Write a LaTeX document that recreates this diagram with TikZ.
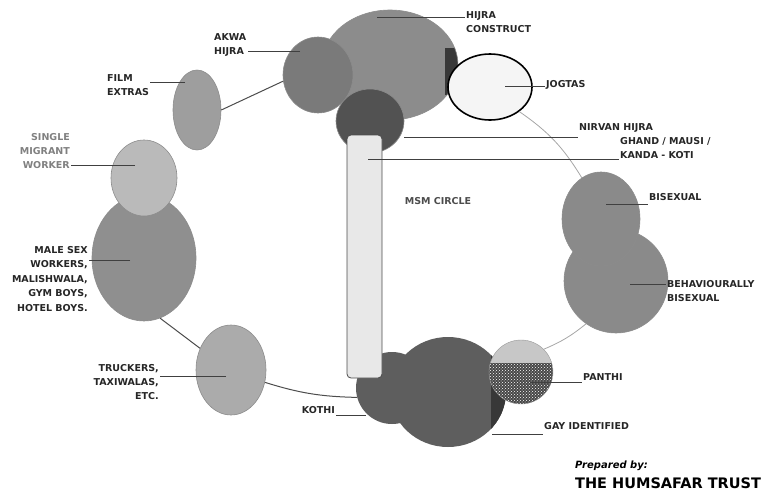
\documentclass[tikz,border=0pt]{standalone}
\usepackage{fontspec}
\usepackage{xcolor}
\usepackage{tikz}
\usetikzlibrary{positioning,shapes.geometric,patterns}
\newfontfamily\labelfont{DejaVu Sans}

\begin{document}
\begin{tikzpicture}[x=1pt,y=-1pt,
  blob/.style={ellipse,draw=black!45,line width=0.6pt,inner sep=0pt},
  ring/.style={draw=black!70,line width=1pt},
  ringlight/.style={draw=black!35,line width=0.8pt},
  lead/.style={draw=black!75,line width=1pt},
  lbl/.style={font=\labelfont\bfseries\fontsize{9.5}{14}\selectfont,text=black!85,inner sep=1pt}]
  \useasboundingbox (0,0) rectangle (766,498);

  \node[blob,fill=black!45,minimum width=136pt,minimum height=110pt,
    path picture={\fill[black!78] ([xshift=-13pt,yshift=17pt]path picture bounding box.east)
      rectangle ([yshift=-30pt]path picture bounding box.east);}] (hijra) at (390,65) {};
  \node[blob,fill=black!52,minimum width=70pt,minimum height=76pt] (akwa) at (318,75) {};
  \node[blob,fill=black!68,minimum width=68pt,minimum height=64pt] (nirvan) at (370,121) {};
  \node[ellipse,draw=black,line width=1.6pt,fill=black!4,minimum width=84pt,minimum height=66pt] (jogtas) at (490,87) {};
  \node[blob,fill=black!38,minimum width=48pt,minimum height=80pt] (film) at (197,110) {};
  \node[blob,fill=black!44,minimum width=104pt,minimum height=126pt] (msw) at (144,258) {};
  \node[blob,fill=black!27,minimum width=66pt,minimum height=76pt] (migrant) at (144,178) {};
  \node[blob,fill=black!33,minimum width=70pt,minimum height=90pt] (truckers) at (231,370) {};
  \node[blob,draw=none,fill=black!63,minimum width=72pt,minimum height=72pt] (kothi) at (392,388) {};
  \node[blob,draw=none,fill=black!63,minimum width=116pt,minimum height=110pt,
    path picture={\fill[black!78] ([xshift=-15pt]path picture bounding box.north east)
      rectangle (path picture bounding box.south east);}] (gay) at (448,392) {};
  \node[circle,draw=black!40,fill=black!22,minimum size=64pt,inner sep=0pt,
    path picture={\fill[black!72] ([yshift=9pt]path picture bounding box.west)
      rectangle (path picture bounding box.south east);
      \fill[pattern=crosshatch dots,pattern color=white] ([yshift=9pt]path picture bounding box.west)
      rectangle (path picture bounding box.south east);}] (panthi) at (521,372) {};
  \node[blob,fill=black!46,minimum width=104pt,minimum height=104pt] (behav) at (616,281) {};
  \node[blob,fill=black!46,minimum width=78pt,minimum height=94pt] (bisexual) at (601,219) {};
  \node[rectangle,rounded corners=4pt,draw=black!70,line width=0.8pt,fill=black!9,
    minimum width=35pt,minimum height=243pt] (msm) at (364.5,256.5) {};

  \draw[ring] (film.east) -- (akwa.190);
  \draw[ringlight] (jogtas.-40) to[bend left=12] (bisexual.115);
  \draw[ringlight] (behav.235) to[bend left=8] (panthi.45);
  \draw[ring] (kothi.195) to[bend left=8] (truckers.-20);
  \draw[ring] (truckers.145) -- (msw.-75);

  \node[lbl,align=left,anchor=north west] (hijra-l) at (465,10) {HIJRA\\CONSTRUCT};
  \node[lbl,align=left,anchor=north west] (akwa-l) at (213,32) {AKWA\\HIJRA};
  \node[lbl,anchor=west] (jogtas-l) at (545,85) {JOGTAS};
  \node[lbl,anchor=west] (nirvan-l) at (578,128) {NIRVAN HIJRA};
  \node[lbl,align=left,anchor=north west] (kanda-l) at (619,136) {GHAND / MAUSI /\\KANDA - KOTI};
  \node[lbl,text=black!70] (msm-l) at (438,201) {MSM CIRCLE};
  \node[lbl,anchor=west] (bisex-l) at (648,197) {BISEXUAL};
  \node[lbl,align=left,anchor=north west] (behav-l) at (666,279) {BEHAVIOURALLY\\BISEXUAL};
  \node[lbl,anchor=west] (panthi-l) at (582,377) {PANTHI};
  \node[lbl,anchor=west] (gay-l) at (543,426) {GAY IDENTIFIED};
  \node[lbl,anchor=east] (kothi-l) at (336,410) {KOTHI};
  \node[lbl,align=right,anchor=north east] (truckers-l) at (160,363) {TRUCKERS,\\TAXIWALAS,\\ETC.};
  \node[lbl,align=right,anchor=north east,font=\labelfont\bfseries\fontsize{9.5}{14.5}\selectfont]
    (msw-l) at (89,245) {MALE SEX\\WORKERS,\\MALISHWALA,\\GYM BOYS,\\HOTEL BOYS.};
  \node[lbl,align=right,anchor=north east,text=black!50] (migrant-l) at (71,132) {SINGLE\\MIGRANT\\WORKER};
  \node[lbl,align=left,anchor=north west] (film-l) at (106,73) {FILM\\EXTRAS};

  \coordinate (hijra-p) at (377,17);
  \coordinate (akwa-p) at (300,51);
  \coordinate (jogtas-p) at (505,86);
  \coordinate (nirvan-p) at (404,137);
  \coordinate (kanda-p) at (368,159);
  \coordinate (bisex-p) at (606,204);
  \coordinate (behav-p) at (630,284);
  \coordinate (panthi-p) at (530,382);
  \coordinate (gay-p) at (492,434);
  \coordinate (kothi-p) at (366,415);
  \coordinate (truckers-p) at (226,376);
  \coordinate (msw-p) at (130,260);
  \coordinate (migrant-p) at (135,165);
  \coordinate (film-p) at (185,82);

  \draw[lead] (hijra-p) -- (hijra-p -| hijra-l.west);
  \draw[lead] (akwa-p) -- (akwa-p -| akwa-l.east);
  \draw[lead] (jogtas-p) -- (jogtas-p -| jogtas-l.west);
  \draw[lead] (nirvan-p) -- (nirvan-p -| nirvan-l.west);
  \draw[lead] (kanda-p) -- (kanda-p -| kanda-l.west);
  \draw[lead] (bisex-p) -- (bisex-p -| bisex-l.west);
  \draw[lead] (behav-p) -- (behav-p -| behav-l.west);
  \draw[lead] (panthi-p) -- (panthi-p -| panthi-l.west);
  \draw[lead] (gay-p) -- (gay-p -| gay-l.west);
  \draw[lead] (kothi-p) -- (kothi-p -| kothi-l.east);
  \draw[lead] (truckers-p) -- (truckers-p -| truckers-l.east);
  \draw[lead] (msw-p) -- (msw-p -| msw-l.east);
  \draw[lead] (migrant-p) -- (migrant-p -| migrant-l.east);
  \draw[lead] (film-p) -- (film-p -| film-l.east);

  \node[font=\labelfont\bfseries\itshape\fontsize{10}{12}\selectfont,anchor=west,inner sep=0pt] (prep) at (575,466) {Prepared by:};
  \node[font=\labelfont\bfseries\fontsize{14.5}{16}\selectfont,inner sep=0pt,
    below=6pt of prep.south west,anchor=north west] (trust) {THE HUMSAFAR TRUST};
\end{tikzpicture}
\end{document}
